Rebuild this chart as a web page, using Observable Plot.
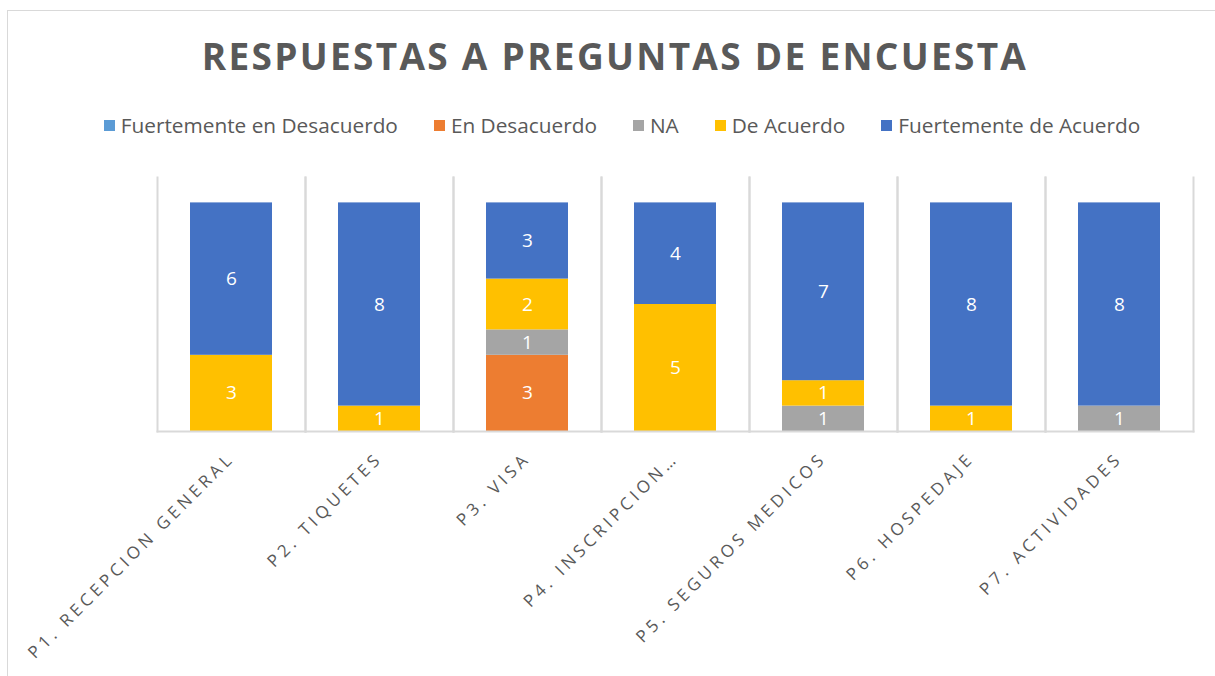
<!DOCTYPE html>
<html>
<head>
<meta charset="utf-8">
<script src="https://cdn.jsdelivr.net/npm/d3@7"></script>
<script src="https://cdn.jsdelivr.net/npm/@observablehq/plot@0.6"></script>
<style>
  html, body { margin: 0; padding: 0; background: #fff; }
  #wrap { position: relative; width: 1215px; height: 676px; overflow: hidden; background: #fff; font-family: "Open Sans", sans-serif; }
  #frame { position: absolute; left: 7px; top: 10px; width: 1230px; height: 700px; border: 1.5px solid #d9d9d9; box-sizing: border-box; }
  #title { position: absolute; left: 0; width: 1230px; top: 30px; text-align: center; font-weight: 700; font-size: 37px; letter-spacing: 2.3px; color: #595959; line-height: 52px; white-space: nowrap; }
  #legend { position: absolute; left: 0; width: 1244px; top: 111px; display: flex; justify-content: center; gap: 36px; font-size: 20.8px; color: #595959; line-height: 28px; white-space: nowrap; }
  .item { display: flex; align-items: center; gap: 6px; }
  .sw { width: 11px; height: 11px; display: inline-block; }
  #chart { position: absolute; left: 0; top: 160px; }
  #chart g[aria-label="fx-axis tick label"] text { letter-spacing: 4px; }
</style>
</head>
<body>
<div id="wrap">
  <div id="frame"></div>
  <div id="title">RESPUESTAS A PREGUNTAS DE ENCUESTA</div>
  <div id="legend"></div>
  <div id="chart"></div>
</div>
<script>
const questions = ["P1. RECEPCION GENERAL", "P2. TIQUETES", "P3. VISA", "P4. INSCRIPCION…", "P5. SEGUROS MEDICOS", "P6. HOSPEDAJE", "P7. ACTIVIDADES"];
const seriesNames = ["Fuertemente en Desacuerdo", "En Desacuerdo", "NA", "De Acuerdo", "Fuertemente de Acuerdo"];
const seriesColors = ["#5B9BD5", "#ED7D31", "#A5A5A5", "#FFC000", "#4472C4"];
const fuertementeEnDesacuerdo = [0, 0, 0, 0, 0, 0, 0];
const enDesacuerdo = [0, 0, 3, 0, 0, 0, 0];
const na = [0, 0, 1, 0, 1, 0, 1];
const deAcuerdo = [3, 1, 2, 5, 1, 1, 0];
const fuertementeDeAcuerdo = [6, 8, 3, 4, 7, 8, 8];

const seriesValues = [fuertementeEnDesacuerdo, enDesacuerdo, na, deAcuerdo, fuertementeDeAcuerdo];
const data = seriesNames.flatMap((s, si) => questions.map((q, qi) => ({q, series: s, value: seriesValues[si][qi]})));

// legend
const legend = document.getElementById("legend");
seriesNames.forEach((s, i) => {
  const it = document.createElement("div");
  it.className = "item";
  it.innerHTML = `<span class="sw" style="background:${seriesColors[i]}"></span><span>${s}</span>`;
  legend.appendChild(it);
});

const gridColor = "#d9d9d9";
const chart = Plot.plot({
  width: 1215,
  height: 516,
  marginLeft: 155,
  marginRight: 20,
  marginTop: 17,
  marginBottom: 245,
  style: {fontFamily: "Open Sans, sans-serif", color: "#595959", background: "transparent"},
  fx: {domain: questions, padding: 0, label: null},
  x: {axis: null},
  y: {domain: [0, 10], axis: null},
  color: {domain: seriesNames, range: seriesColors},
  marks: [
    Plot.frame({anchor: "left", stroke: gridColor, strokeWidth: 2}),
    Plot.frame({anchor: "right", stroke: gridColor, strokeWidth: 2}),
    Plot.barY(data, Plot.stackY({fx: "q", y: "value", fill: "series", insetLeft: 33, insetRight: 33})),
    Plot.text(data.filter(d => d.value > 0), Plot.stackY({fx: "q", y: "value", z: "series", text: d => String(d.value), fill: "white", fontSize: 19})),
    Plot.frame({anchor: "bottom", stroke: gridColor, strokeWidth: 2}),
    Plot.axisFx({anchor: "bottom", tickRotate: -45, tickSize: 0, tickPadding: 24, fontSize: 17, fill: "#595959", dx: 0, label: null})
  ]
});
document.getElementById("chart").appendChild(chart);
</script>
</body>
</html>
